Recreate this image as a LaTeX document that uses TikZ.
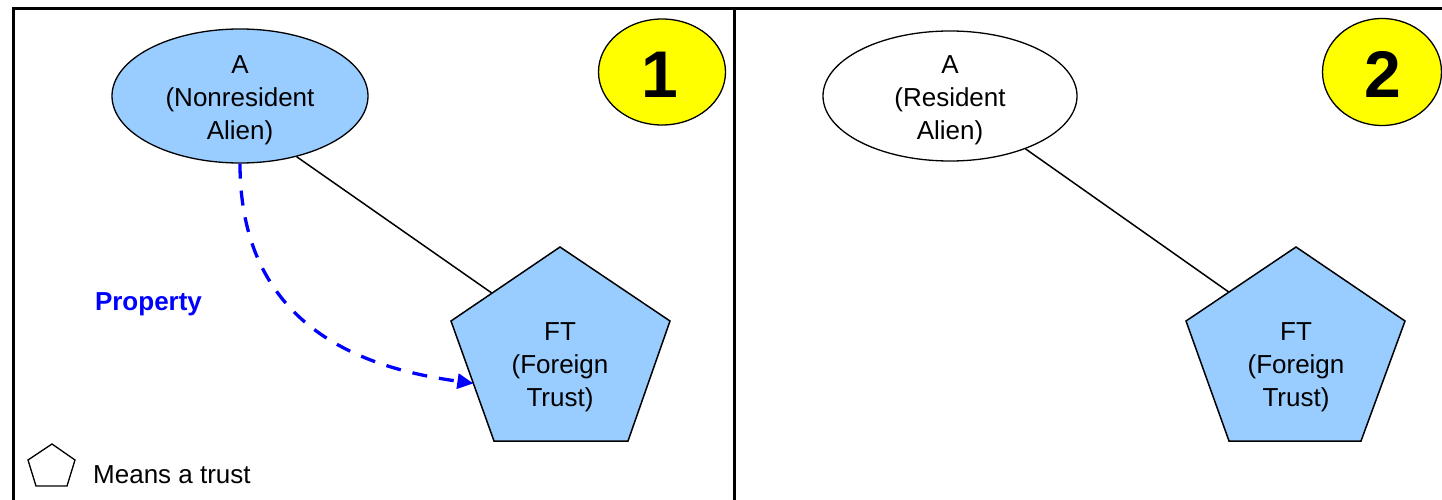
\documentclass[tikz,border=0pt]{standalone}
\usepackage{fontspec}
\setmainfont{Liberation Sans}
\usetikzlibrary{arrows.meta,calc,shapes.geometric}
\definecolor{lblue}{RGB}{153,204,255}
\definecolor{yel}{RGB}{255,255,0}
\tikzset{
  frame/.style={line width=3pt},
  person/.style={ellipse,draw,line width=1.3pt,inner sep=0pt},
  badge/.style={ellipse,draw,fill=yel,line width=1.3pt,inner sep=0pt,
    font=\fontsize{66}{66}\selectfont\bfseries},
  trustshape/.style={draw,fill=lblue,line width=1.5pt,line join=miter},
  label/.style={align=center,font=\fontsize{26}{33}\selectfont,inner sep=0pt},
  link/.style={line width=1.5pt},
  transfer/.style={draw=blue,line width=3.3pt,dash pattern=on 15pt off 12pt,
    -{Triangle[length=16pt,width=15pt]}},
}
\begin{document}
\begin{tikzpicture}[x=1pt,y=-1pt]
\useasboundingbox (0,0) rectangle (1442,500);
% frame
\draw[frame] (13.5,500) -- (13.5,8.5) -- (1442,8.5);
\draw[frame] (734.5,8.5) -- (734.5,500);

% panel 1
\node[person,fill=lblue,minimum width=256pt,minimum height=134pt] (a1) at (240,96) {};
\node[label] (a1txt) at (240,100) {A\\(Nonresident\\Alien)};
\node[badge,minimum width=127pt,minimum height=106pt] (b1) at (662,72) {};
\node[badge,fill=none,draw=none] (n1) at (660,75) {1};
\coordinate (p1t) at (560,247);
\coordinate (p1l) at (451,321);
\coordinate (p1r) at (670,321);
\coordinate (p1bl) at (494,441);
\coordinate (p1br) at (628,441);
\draw[trustshape] (p1t) -- (p1r) -- (p1br) -- (p1bl) -- (p1l) -- cycle;
\node[label] (ft1) at (560,367.5) {FT\\(Foreign\\Trust)};
\coordinate (e1) at ($(p1t)!0.624!(p1l)$);
\coordinate (t1) at ($(p1l)!0.52!(p1bl)$);
\draw[link] (a1.-47.5) -- (e1);
\draw[transfer] (a1.south) .. controls +(0,170) and +(-100,-14) .. (t1);
\node[label,text=blue,font=\fontsize{26}{33}\selectfont\bfseries] (prop) at (148.5,304) {Property};

% legend
\coordinate (lt) at (52,444);
\coordinate (ll) at (28,460);
\coordinate (lr) at (75,460);
\coordinate (lbl) at (36,486);
\coordinate (lbr) at (67,486);
\draw[line width=1.3pt,line join=miter] (lt) -- (lr) -- (lbr) -- (lbl) -- (ll) -- cycle;
\node[label,anchor=base west] (leg) at (93,483) {Means a trust};

% panel 2
\node[person,fill=white,minimum width=254pt,minimum height=130pt] (a2) at (950,96) {};
\node[label] (a2txt) at (950,100) {A\\(Resident\\Alien)};
\node[badge,minimum width=119pt,minimum height=107pt] (b2) at (1382,72) {};
\node[badge,fill=none,draw=none] (n2) at (1383,74) {2};
\coordinate (p2t) at (1296,247);
\coordinate (p2l) at (1186,321);
\coordinate (p2r) at (1405,321);
\coordinate (p2bl) at (1229,441);
\coordinate (p2br) at (1361,441);
\draw[trustshape] (p2t) -- (p2r) -- (p2br) -- (p2bl) -- (p2l) -- cycle;
\node[label] (ft2) at (1296,367.5) {FT\\(Foreign\\Trust)};
\coordinate (e2) at ($(p2t)!0.61!(p2l)$);
\draw[link] (a2.-35.6) -- (e2);
\end{tikzpicture}
\end{document}
